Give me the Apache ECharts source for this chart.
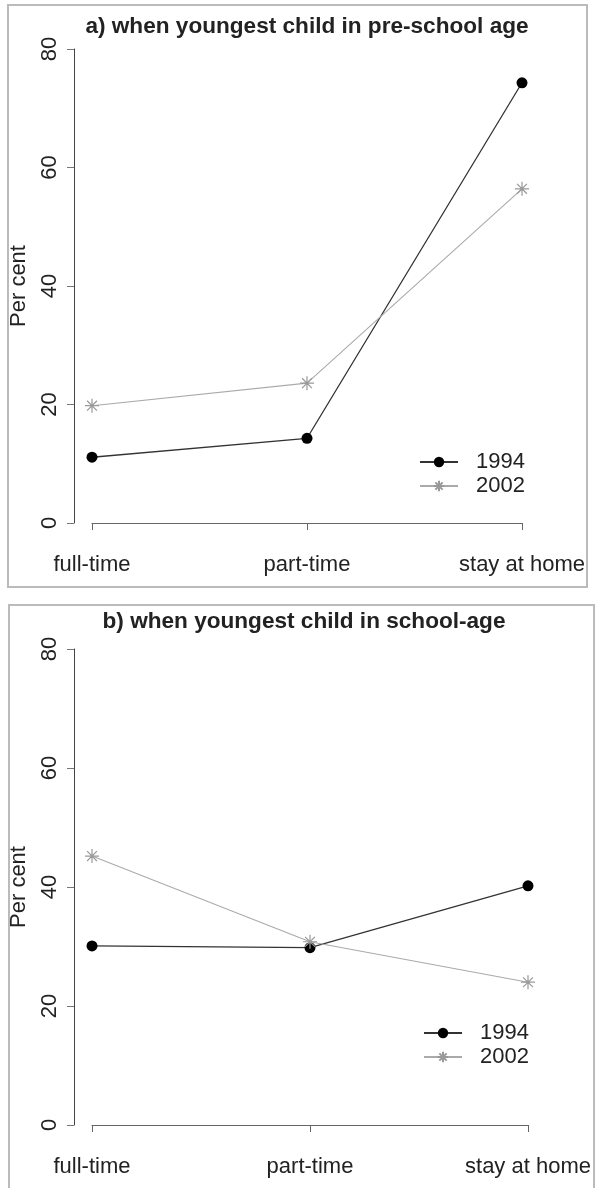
<!DOCTYPE html>
<html>
<head>
<meta charset="utf-8">
<script src="https://cdn.jsdelivr.net/npm/echarts@6/dist/echarts.min.js"></script>
<style>
    html, body {margin: 0; padding: 0; background: #fff;}
    #chart {width: 595px; height: 1188px;}
</style>
</head>
<body>
<div id="chart"></div>
<script>
    var categories = ['full-time', 'part-time', 'stay at home'];
    var yTicks = [0, 20, 40, 60, 80];
    var seriesNames = ['1994', '2002'];
    // panel a) youngest child in pre-school age
    var preSchool1994 = [11.1, 14.3, 74.3];
    var preSchool2002 = [19.8, 23.6, 56.4];
    // panel b) youngest child in school-age
    var school1994 = [30.1, 29.8, 40.2];
    var school2002 = [45.2, 30.8, 24.0];

    var FONT = '"Liberation Sans", Arial, sans-serif';
    var STAR = 'path://M10,0L10,20M0,10L20,10M3,3L17,17M3,17L17,3';

    function xAxisOf(gridIndex) {
        return {
            type: 'category',
            gridIndex: gridIndex,
            data: categories,
            boundaryGap: false,
            offset: 20,
            axisLine: {lineStyle: {color: '#666', width: 1}},
            axisTick: {length: 7, alignWithLabel: true, lineStyle: {color: '#666'}},
            axisLabel: {margin: 11, color: '#222', fontSize: 22, fontFamily: FONT, interval: 0}
        };
    }

    function yAxisOf(gridIndex) {
        return {
            type: 'value',
            gridIndex: gridIndex,
            min: yTicks[0],
            max: yTicks[yTicks.length - 1],
            interval: 20,
            offset: 18,
            name: 'Per cent',
            nameLocation: 'middle',
            nameRotate: 90,
            nameGap: 44,
            nameTextStyle: {color: '#222', fontSize: 22, fontFamily: FONT},
            splitLine: {show: false},
            axisLine: {show: true, lineStyle: {color: '#444', width: 1}},
            axisTick: {show: true, length: 7, lineStyle: {color: '#777'}},
            axisLabel: {rotate: 90, margin: 13, color: '#222', fontSize: 22, fontFamily: FONT}
        };
    }

    function seriesOf(name, index, data) {
        var old = name === seriesNames[0];
        return {
            name: name,
            type: 'line',
            xAxisIndex: index,
            yAxisIndex: index,
            data: data,
            symbol: old ? 'circle' : STAR,
            symbolSize: old ? 11 : 14,
            showAllSymbol: true,
            itemStyle: old ? {color: '#000'} : {color: '#999', borderColor: '#999', borderWidth: 1.2},
            lineStyle: {color: old ? '#333' : '#aaa', width: old ? 1.3 : 1.1},
            emphasis: {disabled: true}
        };
    }

    function legendOf(left, top) {
        return {
            orient: 'vertical',
            left: left,
            top: top,
            padding: 0,
            itemWidth: 38,
            itemHeight: 13,
            itemGap: 2,
            data: seriesNames,
            selectedMode: false,
            textStyle: {color: '#222', fontSize: 22, fontFamily: FONT, padding: [0, 0, 0, 13]}
        };
    }

    var chart = echarts.init(document.getElementById('chart'));
    var option = {
        animation: false,
        backgroundColor: '#fff',
        title: [
            {
                text: 'a) when youngest child in pre-school age',
                left: 302,
                textAlign: 'center',
                top: 10,
                textStyle: {color: '#222', fontSize: 22.6, fontWeight: 'bold', fontFamily: FONT}
            },
            {
                text: 'b) when youngest child in school-age',
                left: 299,
                textAlign: 'center',
                top: 605,
                textStyle: {color: '#222', fontSize: 22.6, fontWeight: 'bold', fontFamily: FONT}
            }
        ],
        grid: [
            {left: 90, right: 73, top: 49, bottom: 1188 - 523},
            {left: 91, right: 67, top: 649, bottom: 1188 - 1125}
        ],
        xAxis: [xAxisOf(0), xAxisOf(1)],
        yAxis: [yAxisOf(0), yAxisOf(1)],
        legend: [legendOf(419, 451), legendOf(423, 1022)],
        series: [
            seriesOf('1994', 0, preSchool1994),
            seriesOf('2002', 0, preSchool2002),
            seriesOf('1994', 1, school1994),
            seriesOf('2002', 1, school2002)
        ],
        graphic: [
            {type: 'rect', shape: {x: 8, y: 5, width: 579, height: 582}, style: {fill: 'none', stroke: '#bbb', lineWidth: 2}, silent: true},
            {type: 'rect', shape: {x: 9, y: 605, width: 585, height: 600}, style: {fill: 'none', stroke: '#bbb', lineWidth: 2}, silent: true}
        ]
    };
    chart.setOption(option);
</script>
</body>
</html>
